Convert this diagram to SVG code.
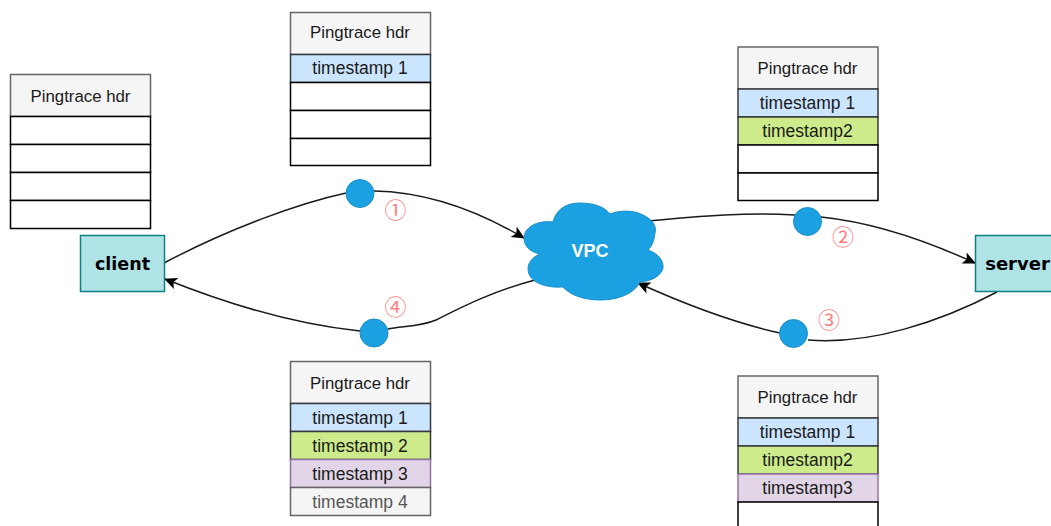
<svg xmlns="http://www.w3.org/2000/svg" width="1051" height="526" viewBox="0 0 1051 526">
<style>
text{font-family:"Liberation Sans",Arial,sans-serif;font-size:17.500px;text-anchor:middle;fill:#1a1a1a}
rect{stroke-width:1.500}
text.t{font-size:16.800px}
.h{fill:#f5f5f5;stroke:#666}
.e{fill:#fff;stroke:#000}
.b{fill:#cce5ff;stroke:#36393d}
.g{fill:#cdeb8b;stroke:#36393d}
.p{fill:#e1d5e7;stroke:#9673a6}
.s{fill:#f5f5f5;stroke:#666}
.dot{fill:#1ba1e2;stroke:#1b8ec9}
.box{fill:#b0e3e6;stroke:#0e8088}
text.bold{font-family:"DejaVu Sans",sans-serif;font-weight:bold;font-size:17.500px;fill:#000}
text.num{font-family:"Noto Sans CJK SC",sans-serif;font-size:22px;fill:#ff8080}
.c{fill:none;stroke:#1a1a1a;stroke-width:1.500}
</style>
<defs><marker id="a" markerWidth="16" markerHeight="14" refX="13" refY="7" orient="auto" markerUnits="userSpaceOnUse"><path d="M1 1L14 7L1 13L4 7Z" fill="#000"/></marker></defs>
<g id="connectors">
<path class="c" d="M164 263C230 228 300 203 346 193"/>
<path class="c" d="M374 191C430 192 480 212 524 238" marker-end="url(#a)"/>
<path class="c" d="M648 221C700 216 750 212 795 215"/>
<path class="c" d="M821 217C870 222 925 240 975 263" marker-end="url(#a)"/>
<path class="c" d="M997 292C940 322 870 345 808 340"/>
<path class="c" d="M780 333C730 322 680 302 638 283" marker-end="url(#a)"/>
<path class="c" d="M535 280C490 292 460 308 436 320C420 327 400 326 388 329"/>
<path class="c" d="M360 331C300 325 230 305 165 279" marker-end="url(#a)"/>
</g>
<g id="table-client">
<rect class="h" x="10.500" y="74.500" width="140" height="42"/><text class="t" x="80.500" y="102">Pingtrace hdr</text>
<rect class="e" x="10.500" y="116.500" width="140" height="28"/><rect class="e" x="10.500" y="144.500" width="140" height="28"/><rect class="e" x="10.500" y="172.500" width="140" height="28"/><rect class="e" x="10.500" y="200.500" width="140" height="28"/>
</g>
<g id="table-1">
<rect class="h" x="290.500" y="12.500" width="140" height="42"/><text class="t" x="360" y="38">Pingtrace hdr</text>
<rect class="b" x="290.500" y="54.500" width="140" height="28"/><text x="360" y="74">timestamp 1</text>
<rect class="e" x="290.500" y="82.500" width="140" height="28"/><rect class="e" x="290.500" y="110.500" width="140" height="28"/><rect class="e" x="290.500" y="138.500" width="140" height="27"/>
</g>
<g id="table-2">
<rect class="h" x="738" y="47" width="140" height="42"/><text class="t" x="807.500" y="74">Pingtrace hdr</text>
<rect class="b" x="738" y="89" width="140" height="28"/><text x="807.500" y="109">timestamp 1</text>
<rect class="g" x="738" y="117" width="140" height="28"/><text x="807.500" y="137">timestamp2</text>
<rect class="e" x="738" y="145" width="140" height="28"/><rect class="e" x="738" y="173" width="140" height="27.500"/>
</g>
<g id="table-3">
<rect class="h" x="738" y="376" width="140" height="42"/><text class="t" x="807.500" y="403">Pingtrace hdr</text>
<rect class="b" x="738" y="418" width="140" height="28"/><text x="807.500" y="438">timestamp 1</text>
<rect class="g" x="738" y="446" width="140" height="28"/><text x="807.500" y="466">timestamp2</text>
<rect class="p" x="738" y="474" width="140" height="28"/><text x="807.500" y="494">timestamp3</text>
<rect class="e" x="738" y="502" width="140" height="28"/>
</g>
<g id="table-4">
<rect class="h" x="290.500" y="361.500" width="140" height="42"/><text class="t" x="360" y="389">Pingtrace hdr</text>
<rect class="b" x="290.500" y="403.500" width="140" height="28"/><text x="360" y="424">timestamp 1</text>
<rect class="g" x="290.500" y="431.500" width="140" height="28"/><text x="360" y="452">timestamp 2</text>
<rect class="p" x="290.500" y="459.500" width="140" height="28"/><text x="360" y="480">timestamp 3</text>
<rect class="s" x="290.500" y="487.500" width="140" height="28"/><text x="360" y="508" style="fill:#555">timestamp 4</text>
</g>
<g id="client"><rect class="box" x="80.500" y="235.500" width="84" height="56"/><text class="bold" x="122.500" y="270">client</text></g>
<g id="server"><rect class="box" x="975.500" y="235.500" width="84" height="56"/><text class="bold" x="1017.500" y="270" style="font-size:18px">server</text></g>
<g id="vpc"><path d="M524 238C524 228 536 220 553 222C556 209 567 203 579 203C592 203 604 206 610 214C620 210 634 210 643 215C652 219 657 226 655 233C654 241 652 246 648 250C657 253 664 260 663 268C661 276 652 281 640 282C634 294 618 300 600 300C584 300 570 295 563 287C548 288 533 284 529 274C526 266 530 258 540 254C530 252 524 246 524 238Z" fill="#1ba1e2" stroke="#1b8ec9"/><text x="590" y="257" style="fill:#fff;font-weight:bold;font-size:18px">VPC</text></g>
<g id="dot-1"><circle class="dot" cx="360" cy="193.500" r="14"/></g>
<g id="dot-2"><circle class="dot" cx="807.500" cy="221.500" r="14"/></g>
<g id="dot-3"><circle class="dot" cx="793.500" cy="333.500" r="14"/></g>
<g id="dot-4"><circle class="dot" cx="374" cy="333" r="14"/></g>
<g id="labels">
<text class="num" x="395.500" y="218">①</text>
<text class="num" x="843" y="245">②</text>
<text class="num" x="829" y="328">③</text>
<text class="num" x="395.500" y="315">④</text>
</g>
</svg>
